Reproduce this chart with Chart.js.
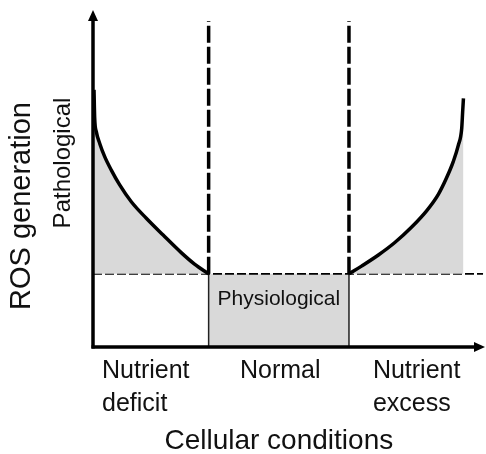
<!DOCTYPE html>
<html>
<head>
<meta charset="utf-8">
<script src="https://cdn.jsdelivr.net/npm/chart.js@4"></script>
<style>
html,body{margin:0;padding:0;background:#fff;}
#wrap{position:relative;width:486px;height:454px;}
</style>
</head>
<body>
<div id="wrap"><canvas id="c"></canvas></div>
<script>
// ---- data (arbitrary units: cellular condition 0-100, ROS generation 0-100) ----
const categories = [["Nutrient", "deficit"], ["Normal"], ["Nutrient", "excess"]];
const zoneBounds = [29.5, 65.3];          // thresholds between conditions
const physiologicalLevel = 21.7;          // ROS level of physiological zone
const thresholdTop = 96.7;                // top of the threshold lines
const deficitX = [0.26, 0.43, 0.84, 1.71, 2.98, 4.67, 6.81, 9.77, 13.6, 17.9, 22.5, 25.9, 29.5];
const deficitY = [76.3, 67.9, 63.9, 60.4, 56.5, 52.5, 48.1, 43.1, 38.2, 33.2, 28.0, 24.6, 21.7];
const excessX = [65.3, 68.5, 72.8, 77.0, 81.3, 85.1, 88.1, 90.2, 91.9, 93.2, 94.06, 94.3, 94.5];
const excessY = [21.7, 24.0, 27.3, 31.0, 35.6, 40.4, 45.3, 50.2, 55.0, 59.9, 64.9, 69.8, 73.8];
const xTitle = "Cellular conditions";
const yTitle = "ROS generation";
const upperZoneLabel = "Pathological";
const lowerZoneLabel = "Physiological";

const toPts = (xs, ys) => xs.map((x, i) => ({x: x, y: ys[i]}));
const FONT = '"Liberation Sans", Arial, Helvetica, sans-serif';
const GRAY = '#d9d9d9';

const datasets = [
  { // deficit curve
    data: toPts(deficitX, deficitY),
    borderColor: '#000', borderWidth: 3.5,
    backgroundColor: GRAY, fill: {value: physiologicalLevel},
    cubicInterpolationMode: 'monotone', pointRadius: 0
  },
  { // excess curve
    data: toPts(excessX, excessY),
    borderColor: '#000', borderWidth: 3.5,
    backgroundColor: GRAY, fill: {value: physiologicalLevel},
    cubicInterpolationMode: 'monotone', pointRadius: 0
  },
  { // threshold 1
    data: [{x: zoneBounds[0], y: physiologicalLevel}, {x: zoneBounds[0], y: thresholdTop}],
    borderColor: '#000', borderWidth: 3.5, borderDash: [17, 4],
    fill: false, pointRadius: 0
  },
  { // threshold 2
    data: [{x: zoneBounds[1], y: physiologicalLevel}, {x: zoneBounds[1], y: thresholdTop}],
    borderColor: '#000', borderWidth: 3.5, borderDash: [17, 4],
    fill: false, pointRadius: 0
  },
  { // physiological level line
    data: [{x: 0, y: physiologicalLevel}, {x: 99.5, y: physiologicalLevel}],
    borderColor: '#000', borderWidth: 1.8, borderDash: [9, 3],
    fill: false, pointRadius: 0
  },
  { // physiological box
    data: [{x: zoneBounds[0], y: 0}, {x: zoneBounds[0], y: physiologicalLevel},
           {x: zoneBounds[1], y: physiologicalLevel}, {x: zoneBounds[1], y: 0}],
    borderColor: '#222', borderWidth: 1.5,
    segment: { borderColor: ctx => ctx.p0DataIndex === 1 ? 'rgba(0,0,0,0)' : '#222' },
    backgroundColor: GRAY, fill: 'origin', pointRadius: 0, tension: 0
  }
];

const decor = {
  id: 'decor',
  afterDatasetsDraw(chart) {
    const ctx = chart.ctx;
    const xs = chart.scales.x, ys = chart.scales.y;
    const x0 = xs.getPixelForValue(0), y0 = ys.getPixelForValue(0);
    const xEnd = xs.getPixelForValue(100), yEnd = ys.getPixelForValue(100);
    ctx.save();
    ctx.strokeStyle = '#000'; ctx.fillStyle = '#000';
    ctx.lineWidth = 3.5; ctx.lineCap = 'butt';
    // y axis
    ctx.beginPath(); ctx.moveTo(x0, y0 + 1.5); ctx.lineTo(x0, yEnd + 8); ctx.stroke();
    ctx.beginPath(); ctx.moveTo(x0, yEnd); ctx.lineTo(x0 - 5, yEnd + 11); ctx.lineTo(x0 + 5, yEnd + 11); ctx.closePath(); ctx.fill();
    // x axis
    ctx.beginPath(); ctx.moveTo(x0 - 1.5, y0); ctx.lineTo(xEnd - 8, y0); ctx.stroke();
    ctx.beginPath(); ctx.moveTo(xEnd, y0); ctx.lineTo(xEnd - 11, y0 - 5); ctx.lineTo(xEnd - 11, y0 + 5); ctx.closePath(); ctx.fill();

    // texts
    ctx.fillStyle = '#111';
    ctx.textBaseline = 'alphabetic';
    // category labels
    ctx.font = '25px ' + FONT;
    ctx.textAlign = 'left';
    const catX = [2.3, 37.5, 71.4];
    categories.forEach((lines, i) => {
      lines.forEach((t, j) => ctx.fillText(t, xs.getPixelForValue(catX[i]), 378 + j * 33));
    });
    // x title
    ctx.font = '28px ' + FONT;
    ctx.textAlign = 'center';
    ctx.fillText(xTitle, (xs.getPixelForValue(zoneBounds[0]) + xs.getPixelForValue(zoneBounds[1])) / 2, 449);
    // physiological label
    ctx.font = '21px ' + FONT;
    ctx.textBaseline = 'middle';
    ctx.fillText(lowerZoneLabel, (xs.getPixelForValue(zoneBounds[0]) + xs.getPixelForValue(zoneBounds[1])) / 2, ys.getPixelForValue(physiologicalLevel * 0.66));
    // rotated titles
    ctx.save();
    ctx.translate(22, 206); ctx.rotate(-Math.PI / 2);
    ctx.font = '29px ' + FONT;
    ctx.fillText(yTitle, 0, 0);
    ctx.restore();
    ctx.save();
    ctx.translate(63, 163); ctx.rotate(-Math.PI / 2);
    ctx.font = '24px ' + FONT;
    ctx.fillText(upperZoneLabel, 0, 0);
    ctx.restore();
    ctx.restore();
  }
};

new Chart(document.getElementById('c'), {
  type: 'line',
  data: { datasets: datasets },
  options: {
    responsive: true, maintainAspectRatio: false, animation: false,
    layout: { padding: { left: 93, right: 1, top: 10, bottom: 107 } },
    plugins: { legend: { display: false }, tooltip: { enabled: false } },
    scales: {
      x: { type: 'linear', min: 0, max: 100, display: false },
      y: { type: 'linear', min: 0, max: 100, display: false }
    }
  },
  plugins: [decor]
});
</script>
</body>
</html>
